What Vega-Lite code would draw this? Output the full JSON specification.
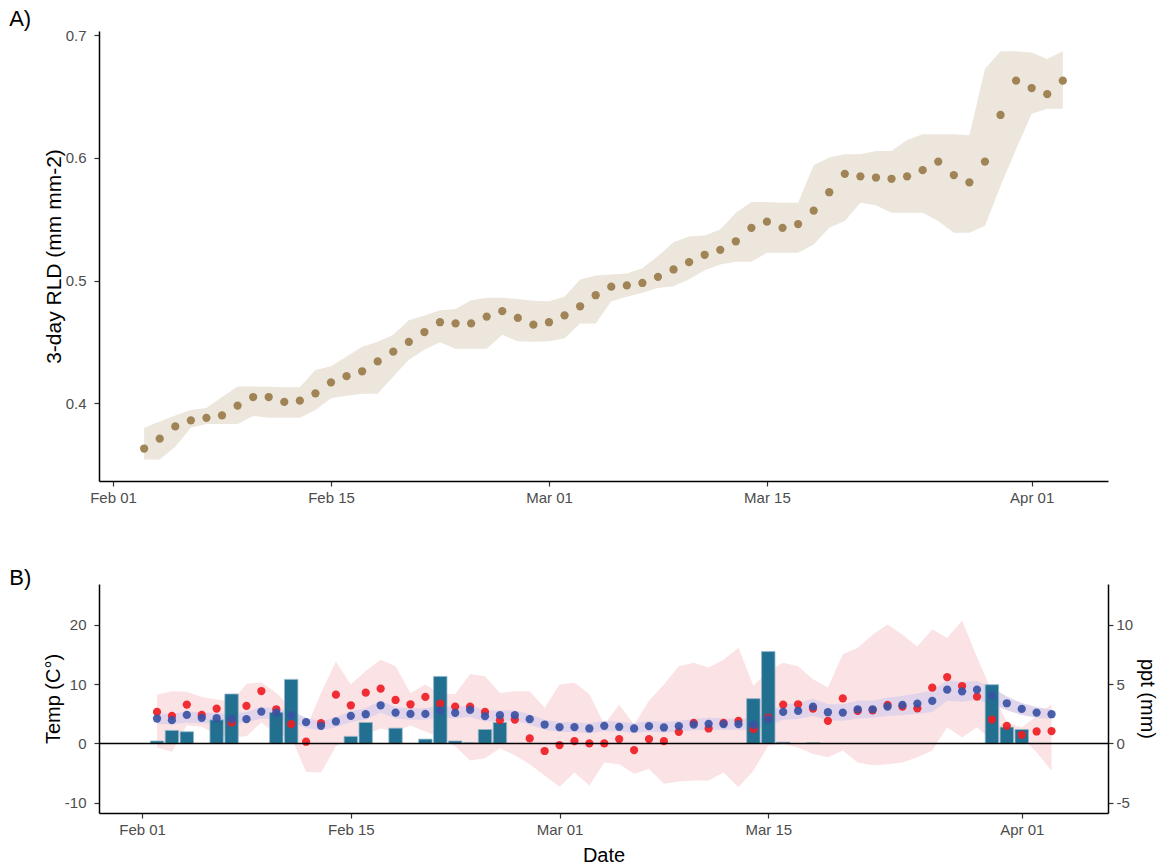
{
  "$schema": "https://vega.github.io/schema/vega-lite/v6.json",
  "padding": {"left": 9, "top": 8, "right": 3, "bottom": 0},
  "config": {
    "view": {"stroke": null},
    "font": "Liberation Sans",
    "axis": {"grid": false, "domainColor": "#000000", "domainWidth": 1.5, "tickColor": "#333333", "tickWidth": 1.2, "tickSize": 5, "labelFont": "Liberation Sans", "labelFontSize": 15, "labelColor": "#4D4D4D", "labelPadding": 4, "titleFont": "Liberation Sans", "titleFontSize": 20, "titleFontWeight": "normal", "titleColor": "#000000"},
    "axisY": {"labelPadding": 8, "titlePadding": 1},
    "title": {"font": "Liberation Sans", "fontSize": 22, "fontWeight": "normal", "color": "#000000", "anchor": "start", "frame": "bounds"}
  },
  "spacing": 62,
  "resolve": {"scale": {"x": "independent", "y": "independent"}},
  "datasets": {
    "rld": [
      {"date": "2021-02-03", "rld": 0.363, "lo": 0.354, "hi": 0.380},
      {"date": "2021-02-04", "rld": 0.371, "lo": 0.354, "hi": 0.385},
      {"date": "2021-02-05", "rld": 0.381, "lo": 0.3645, "hi": 0.390},
      {"date": "2021-02-06", "rld": 0.386, "lo": 0.380, "hi": 0.3945},
      {"date": "2021-02-07", "rld": 0.388, "lo": 0.383, "hi": 0.396},
      {"date": "2021-02-08", "rld": 0.390, "lo": 0.383, "hi": 0.405},
      {"date": "2021-02-09", "rld": 0.398, "lo": 0.383, "hi": 0.4136},
      {"date": "2021-02-10", "rld": 0.405, "lo": 0.3896, "hi": 0.4136},
      {"date": "2021-02-11", "rld": 0.405, "lo": 0.388, "hi": 0.4133},
      {"date": "2021-02-12", "rld": 0.401, "lo": 0.388, "hi": 0.413},
      {"date": "2021-02-13", "rld": 0.402, "lo": 0.388, "hi": 0.413},
      {"date": "2021-02-14", "rld": 0.408, "lo": 0.3945, "hi": 0.427},
      {"date": "2021-02-15", "rld": 0.417, "lo": 0.404, "hi": 0.430},
      {"date": "2021-02-16", "rld": 0.422, "lo": 0.406, "hi": 0.438},
      {"date": "2021-02-17", "rld": 0.426, "lo": 0.4076, "hi": 0.446},
      {"date": "2021-02-18", "rld": 0.434, "lo": 0.4076, "hi": 0.450},
      {"date": "2021-02-19", "rld": 0.442, "lo": 0.4218, "hi": 0.4558},
      {"date": "2021-02-20", "rld": 0.450, "lo": 0.4354, "hi": 0.4675},
      {"date": "2021-02-21", "rld": 0.458, "lo": 0.4436, "hi": 0.4714},
      {"date": "2021-02-22", "rld": 0.466, "lo": 0.4496, "hi": 0.4757},
      {"date": "2021-02-23", "rld": 0.465, "lo": 0.4444, "hi": 0.4768},
      {"date": "2021-02-24", "rld": 0.465, "lo": 0.4444, "hi": 0.484},
      {"date": "2021-02-25", "rld": 0.4706, "lo": 0.4444, "hi": 0.486},
      {"date": "2021-02-26", "rld": 0.475, "lo": 0.4558, "hi": 0.486},
      {"date": "2021-02-27", "rld": 0.4695, "lo": 0.4504, "hi": 0.485},
      {"date": "2021-02-28", "rld": 0.464, "lo": 0.450, "hi": 0.4836},
      {"date": "2021-03-01", "rld": 0.466, "lo": 0.4504, "hi": 0.483},
      {"date": "2021-03-02", "rld": 0.4716, "lo": 0.453, "hi": 0.4867},
      {"date": "2021-03-03", "rld": 0.479, "lo": 0.465, "hi": 0.5008},
      {"date": "2021-03-04", "rld": 0.488, "lo": 0.465, "hi": 0.504},
      {"date": "2021-03-05", "rld": 0.495, "lo": 0.483, "hi": 0.505},
      {"date": "2021-03-06", "rld": 0.496, "lo": 0.4867, "hi": 0.5057},
      {"date": "2021-03-07", "rld": 0.498, "lo": 0.490, "hi": 0.510},
      {"date": "2021-03-08", "rld": 0.503, "lo": 0.494, "hi": 0.520},
      {"date": "2021-03-09", "rld": 0.509, "lo": 0.4953, "hi": 0.5313},
      {"date": "2021-03-10", "rld": 0.515, "lo": 0.501, "hi": 0.536},
      {"date": "2021-03-11", "rld": 0.521, "lo": 0.5084, "hi": 0.5368},
      {"date": "2021-03-12", "rld": 0.525, "lo": 0.513, "hi": 0.5417},
      {"date": "2021-03-13", "rld": 0.532, "lo": 0.5153, "hi": 0.5553},
      {"date": "2021-03-14", "rld": 0.543, "lo": 0.5153, "hi": 0.564},
      {"date": "2021-03-15", "rld": 0.548, "lo": 0.5226, "hi": 0.564},
      {"date": "2021-03-16", "rld": 0.543, "lo": 0.5226, "hi": 0.5635},
      {"date": "2021-03-17", "rld": 0.546, "lo": 0.5226, "hi": 0.5635},
      {"date": "2021-03-18", "rld": 0.557, "lo": 0.5294, "hi": 0.594},
      {"date": "2021-03-19", "rld": 0.572, "lo": 0.543, "hi": 0.6003},
      {"date": "2021-03-20", "rld": 0.587, "lo": 0.5485, "hi": 0.603},
      {"date": "2021-03-21", "rld": 0.585, "lo": 0.5635, "hi": 0.603},
      {"date": "2021-03-22", "rld": 0.584, "lo": 0.5613, "hi": 0.6057},
      {"date": "2021-03-23", "rld": 0.583, "lo": 0.5553, "hi": 0.6057},
      {"date": "2021-03-24", "rld": 0.585, "lo": 0.5553, "hi": 0.6147},
      {"date": "2021-03-25", "rld": 0.590, "lo": 0.5553, "hi": 0.6193},
      {"date": "2021-03-26", "rld": 0.597, "lo": 0.5485, "hi": 0.6193},
      {"date": "2021-03-27", "rld": 0.586, "lo": 0.539, "hi": 0.6193},
      {"date": "2021-03-28", "rld": 0.580, "lo": 0.539, "hi": 0.6185},
      {"date": "2021-03-29", "rld": 0.597, "lo": 0.5444, "hi": 0.6725},
      {"date": "2021-03-30", "rld": 0.635, "lo": 0.577, "hi": 0.687},
      {"date": "2021-03-31", "rld": 0.663, "lo": 0.607, "hi": 0.687},
      {"date": "2021-04-01", "rld": 0.657, "lo": 0.636, "hi": 0.686},
      {"date": "2021-04-02", "rld": 0.652, "lo": 0.640, "hi": 0.6807},
      {"date": "2021-04-03", "rld": 0.663, "lo": 0.640, "hi": 0.687}
    ],
    "met": [
      {"date": "2021-02-02", "tmean": 5.30, "tmin": -0.7, "tmax": 8.2, "soil": 4.19, "slo": 3.3, "shi": 5.0, "ppt": 0.2},
      {"date": "2021-02-03", "tmean": 4.63, "tmin": -1.4, "tmax": 8.8, "soil": 3.91, "slo": 3.2, "shi": 4.9, "ppt": 1.09},
      {"date": "2021-02-04", "tmean": 6.53, "tmin": 3.0, "tmax": 8.7, "soil": 4.80, "slo": 3.5, "shi": 5.4, "ppt": 0.98},
      {"date": "2021-02-05", "tmean": 4.80, "tmin": 2.8, "tmax": 7.8, "soil": 4.30, "slo": 3.4, "shi": 5.2},
      {"date": "2021-02-06", "tmean": 5.86, "tmin": 1.5, "tmax": 7.4, "soil": 4.24, "slo": 3.4, "shi": 5.1, "ppt": 1.98},
      {"date": "2021-02-07", "tmean": 3.52, "tmin": 1.0, "tmax": 7.0, "soil": 4.08, "slo": 3.3, "shi": 5.0, "ppt": 4.16},
      {"date": "2021-02-08", "tmean": 6.31, "tmin": 1.2, "tmax": 10.0, "soil": 4.08, "slo": 3.5, "shi": 5.3},
      {"date": "2021-02-09", "tmean": 8.82, "tmin": 3.5, "tmax": 10.3, "soil": 5.36, "slo": 4.2, "shi": 6.1},
      {"date": "2021-02-10", "tmean": 5.75, "tmin": 1.5, "tmax": 8.5, "soil": 5.19, "slo": 4.0, "shi": 5.9, "ppt": 2.6},
      {"date": "2021-02-11", "tmean": 3.24, "tmin": 1.0, "tmax": 6.0, "soil": 4.75, "slo": 3.6, "shi": 5.4, "ppt": 5.39},
      {"date": "2021-02-12", "tmean": 0.28, "tmin": -4.8, "tmax": 2.5, "soil": 3.57, "slo": 2.6, "shi": 4.3},
      {"date": "2021-02-13", "tmean": 3.41, "tmin": -4.9, "tmax": 8.5, "soil": 2.96, "slo": 2.2, "shi": 3.7},
      {"date": "2021-02-14", "tmean": 8.21, "tmin": -0.5, "tmax": 13.8, "soil": 3.69, "slo": 2.7, "shi": 4.4},
      {"date": "2021-02-15", "tmean": 6.42, "tmin": 1.0, "tmax": 9.9, "soil": 4.63, "slo": 3.6, "shi": 5.4, "ppt": 0.59},
      {"date": "2021-02-16", "tmean": 8.54, "tmin": 1.5, "tmax": 12.2, "soil": 4.91, "slo": 4.0, "shi": 5.9, "ppt": 1.76},
      {"date": "2021-02-17", "tmean": 9.21, "tmin": 2.5, "tmax": 14.1, "soil": 6.42, "slo": 5.2, "shi": 7.2},
      {"date": "2021-02-18", "tmean": 7.31, "tmin": 2.0, "tmax": 13.0, "soil": 5.19, "slo": 4.2, "shi": 6.1, "ppt": 1.28},
      {"date": "2021-02-19", "tmean": 6.59, "tmin": 3.0, "tmax": 8.5, "soil": 4.97, "slo": 4.0, "shi": 5.9},
      {"date": "2021-02-20", "tmean": 7.82, "tmin": 2.0, "tmax": 9.9, "soil": 4.97, "slo": 4.0, "shi": 5.9, "ppt": 0.36},
      {"date": "2021-02-21", "tmean": 6.70, "tmin": 1.0, "tmax": 8.3, "soil": 5.53, "slo": 4.4, "shi": 6.4, "ppt": 5.64},
      {"date": "2021-02-22", "tmean": 6.20, "tmin": -0.5, "tmax": 8.3, "soil": 5.14, "slo": 4.2, "shi": 6.0, "ppt": 0.2},
      {"date": "2021-02-23", "tmean": 6.20, "tmin": -2.9, "tmax": 11.7, "soil": 5.64, "slo": 4.5, "shi": 6.5, "ppt": 0.05},
      {"date": "2021-02-24", "tmean": 5.30, "tmin": -2.5, "tmax": 11.3, "soil": 4.58, "slo": 3.7, "shi": 5.5, "ppt": 1.17},
      {"date": "2021-02-25", "tmean": 3.91, "tmin": -0.8, "tmax": 8.5, "soil": 4.75, "slo": 3.8, "shi": 5.6, "ppt": 1.76},
      {"date": "2021-02-26", "tmean": 4.02, "tmin": -2.0, "tmax": 8.8, "soil": 4.75, "slo": 3.8, "shi": 5.6},
      {"date": "2021-02-27", "tmean": 0.84, "tmin": -3.5, "tmax": 8.8, "soil": 4.08, "slo": 3.2, "shi": 4.9},
      {"date": "2021-02-28", "tmean": -1.28, "tmin": -5.4, "tmax": 6.0, "soil": 3.18, "slo": 2.3, "shi": 4.0},
      {"date": "2021-03-01", "tmean": -0.28, "tmin": -7.3, "tmax": 9.9, "soil": 2.74, "slo": 1.9, "shi": 3.6},
      {"date": "2021-03-02", "tmean": 0.39, "tmin": -4.9, "tmax": 10.2, "soil": 2.74, "slo": 1.9, "shi": 3.6},
      {"date": "2021-03-03", "tmean": 0.0, "tmin": -7.1, "tmax": 8.3, "soil": 2.51, "slo": 1.7, "shi": 3.4},
      {"date": "2021-03-04", "tmean": 0.0, "tmin": -3.2, "tmax": 3.2, "soil": 2.96, "slo": 2.1, "shi": 3.8},
      {"date": "2021-03-05", "tmean": 0.73, "tmin": -3.5, "tmax": 6.5, "soil": 2.79, "slo": 2.0, "shi": 3.7},
      {"date": "2021-03-06", "tmean": -1.12, "tmin": -5.1, "tmax": 3.2, "soil": 2.51, "slo": 1.7, "shi": 3.4},
      {"date": "2021-03-07", "tmean": 0.73, "tmin": -4.3, "tmax": 7.2, "soil": 2.90, "slo": 2.0, "shi": 3.8},
      {"date": "2021-03-08", "tmean": 0.39, "tmin": -6.8, "tmax": 9.9, "soil": 2.68, "slo": 1.8, "shi": 3.6},
      {"date": "2021-03-09", "tmean": 1.95, "tmin": -6.4, "tmax": 13.0, "soil": 2.90, "slo": 2.0, "shi": 3.8},
      {"date": "2021-03-10", "tmean": 3.46, "tmin": -6.25, "tmax": 13.6, "soil": 3.18, "slo": 2.2, "shi": 4.1},
      {"date": "2021-03-11", "tmean": 2.51, "tmin": -6.25, "tmax": 12.8, "soil": 3.29, "slo": 2.3, "shi": 4.3},
      {"date": "2021-03-12", "tmean": 3.46, "tmin": -4.9, "tmax": 14.1, "soil": 3.24, "slo": 2.3, "shi": 4.2},
      {"date": "2021-03-13", "tmean": 3.80, "tmin": -7.4, "tmax": 16.1, "soil": 3.24, "slo": 2.3, "shi": 4.2},
      {"date": "2021-03-14", "tmean": 2.40, "tmin": -4.6, "tmax": 9.7, "soil": 3.13, "slo": 2.2, "shi": 4.1, "ppt": 3.77},
      {"date": "2021-03-15", "tmean": 4.36, "tmin": -0.4, "tmax": 12.2, "soil": 4.08, "slo": 3.0, "shi": 5.2, "ppt": 7.73},
      {"date": "2021-03-16", "tmean": 6.53, "tmin": -0.1, "tmax": 13.6, "soil": 5.30, "slo": 4.0, "shi": 6.5, "ppt": 0.1},
      {"date": "2021-03-17", "tmean": 6.59, "tmin": -0.7, "tmax": 13.0, "soil": 5.47, "slo": 4.1, "shi": 6.8},
      {"date": "2021-03-18", "tmean": 5.86, "tmin": -1.8, "tmax": 10.8, "soil": 6.20, "slo": 4.6, "shi": 7.5, "ppt": 0.05},
      {"date": "2021-03-19", "tmean": 3.80, "tmin": -2.35, "tmax": 9.4, "soil": 5.25, "slo": 3.9, "shi": 6.6},
      {"date": "2021-03-20", "tmean": 7.59, "tmin": -1.2, "tmax": 15.0, "soil": 5.19, "slo": 3.8, "shi": 6.6},
      {"date": "2021-03-21", "tmean": 5.47, "tmin": -3.2, "tmax": 16.1, "soil": 5.75, "slo": 4.2, "shi": 7.2},
      {"date": "2021-03-22", "tmean": 5.58, "tmin": -3.7, "tmax": 18.3, "soil": 5.75, "slo": 4.3, "shi": 7.2},
      {"date": "2021-03-23", "tmean": 6.48, "tmin": -3.5, "tmax": 20.0, "soil": 6.20, "slo": 4.6, "shi": 7.7},
      {"date": "2021-03-24", "tmean": 6.20, "tmin": -3.2, "tmax": 18.3, "soil": 6.48, "slo": 4.8, "shi": 8.0},
      {"date": "2021-03-25", "tmean": 5.90, "tmin": -2.35, "tmax": 16.3, "soil": 6.70, "slo": 5.0, "shi": 8.4},
      {"date": "2021-03-26", "tmean": 9.38, "tmin": -1.2, "tmax": 19.2, "soil": 7.15, "slo": 5.3, "shi": 8.9},
      {"date": "2021-03-27", "tmean": 11.17, "tmin": 2.7, "tmax": 17.75, "soil": 9.05, "slo": 7.2, "shi": 10.6},
      {"date": "2021-03-28", "tmean": 9.66, "tmin": 1.0, "tmax": 20.7, "soil": 8.77, "slo": 7.0, "shi": 10.4},
      {"date": "2021-03-29", "tmean": 7.87, "tmin": 2.7, "tmax": 14.5, "soil": 9.05, "slo": 7.3, "shi": 10.5},
      {"date": "2021-03-30", "tmean": 4.02, "tmin": 0.45, "tmax": 8.8, "soil": 8.04, "slo": 6.6, "shi": 9.4, "ppt": 4.94},
      {"date": "2021-03-31", "tmean": 2.96, "tmin": 0.2, "tmax": 3.5, "soil": 6.76, "slo": 5.6, "shi": 7.9, "ppt": 1.37},
      {"date": "2021-04-01", "tmean": 1.45, "tmin": 1.0, "tmax": 2.7, "soil": 5.81, "slo": 4.8, "shi": 6.8, "ppt": 1.17},
      {"date": "2021-04-02", "tmean": 2.01, "tmin": -1.5, "tmax": 4.6, "soil": 5.19, "slo": 4.3, "shi": 6.1},
      {"date": "2021-04-03", "tmean": 2.07, "tmin": -4.6, "tmax": 6.6, "soil": 4.91, "slo": 4.1, "shi": 5.7}
    ]
  },
  "vconcat": [
    {
      "width": 1009,
      "height": 450,
      "title": {"text": "A)", "dx": -34, "offset": -3},
      "data": {"name": "rld"},
      "encoding": {
        "x": {"field": "date", "type": "temporal",
          "scale": {"type": "utc", "nice": false, "domain": [{"year": 2021, "month": 1, "date": 31, "hours": 2, "minutes": 25, "utc": true}, {"year": 2021, "month": 4, "date": 5, "hours": 21, "minutes": 40, "utc": true}]},
          "axis": {"title": null, "format": "%b %d",
            "values": [{"year": 2021, "month": 2, "date": 1, "utc": true}, {"year": 2021, "month": 2, "date": 15, "utc": true}, {"year": 2021, "month": 3, "date": 1, "utc": true}, {"year": 2021, "month": 3, "date": 15, "utc": true}, {"year": 2021, "month": 4, "date": 1, "utc": true}]}}
      },
      "layer": [
        {"mark": {"type": "area", "color": "#ECE6DD", "opacity": 1},
         "encoding": {
           "y": {"field": "lo", "type": "quantitative", "scale": {"domain": [0.3365, 0.7035], "nice": false, "zero": false}, "axis": {"title": "3-day RLD (mm mm-2)", "titleFontSize": 21, "values": [0.4, 0.5, 0.6, 0.7], "format": ".1f"}},
           "y2": {"field": "hi"}}},
        {"mark": {"type": "circle", "size": 68, "color": "#A08455", "opacity": 1},
         "encoding": {"y": {"field": "rld", "type": "quantitative", "title": "3-day RLD (mm mm-2)"}}}
      ]
    },
    {
      "width": 1009,
      "height": 229,
      "title": {"text": "B)", "dx": -34, "offset": -6},
      "data": {"name": "met"},
      "resolve": {"scale": {"y": "independent"}, "axis": {"y": "independent"}},
      "layer": [
        {"mark": {"type": "area", "color": "#FBE2E4", "opacity": 1},
         "encoding": {
           "x": {"field": "date", "type": "temporal",
             "scale": {"type": "utc", "nice": false, "domain": [{"year": 2021, "month": 1, "date": 29, "hours": 10, "minutes": 40, "utc": true}, {"year": 2021, "month": 4, "date": 6, "hours": 10, "minutes": 50, "utc": true}]},
             "axis": {"title": "Date", "titlePadding": 8, "format": "%b %d",
               "values": [{"year": 2021, "month": 2, "date": 1, "utc": true}, {"year": 2021, "month": 2, "date": 15, "utc": true}, {"year": 2021, "month": 3, "date": 1, "utc": true}, {"year": 2021, "month": 3, "date": 15, "utc": true}, {"year": 2021, "month": 4, "date": 1, "utc": true}]}},
           "y": {"field": "tmin", "type": "quantitative", "scale": {"domain": [-11.72, 26.84], "nice": false, "zero": false}, "axis": {"title": "Temp (C°)", "values": [-10, 0, 10, 20], "orient": "left", "labelExpr": "replace(datum.label, '−', '-')"}},
           "y2": {"field": "tmax"}}},
        {"mark": {"type": "area", "color": "#DDD2EA", "opacity": 0.9},
         "encoding": {
           "x": {"field": "date", "type": "temporal", "title": "Date"},
           "y": {"field": "slo", "type": "quantitative", "scale": {"domain": [-11.72, 26.84], "nice": false, "zero": false}, "axis": null},
           "y2": {"field": "shi"}}},
        {"mark": {"type": "bar", "width": 13.4, "color": "#17698C", "opacity": 0.95, "stroke": "#8DB4C7", "strokeWidth": 0.8},
         "encoding": {
           "x": {"field": "date", "type": "temporal", "title": "Date"},
           "y": {"field": "ppt", "type": "quantitative", "scale": {"domain": [-5.86, 13.42], "nice": false, "zero": false}, "axis": {"title": "ppt (mm)", "orient": "right", "values": [-5, 0, 5, 10], "labelPadding": 3, "titlePadding": 4, "labelExpr": "replace(datum.label, '−', '-')"}}}},
        {"mark": {"type": "circle", "size": 68, "color": "#EE1D23", "opacity": 0.92},
         "encoding": {
           "x": {"field": "date", "type": "temporal", "title": "Date"},
           "y": {"field": "tmean", "type": "quantitative", "scale": {"domain": [-11.72, 26.84], "nice": false, "zero": false}, "axis": null}}},
        {"mark": {"type": "circle", "size": 68, "color": "#3953A4", "opacity": 0.92},
         "encoding": {
           "x": {"field": "date", "type": "temporal", "title": "Date"},
           "y": {"field": "soil", "type": "quantitative", "scale": {"domain": [-11.72, 26.84], "nice": false, "zero": false}, "axis": null}}},
        {"data": {"values": [{"z": 0}]},
         "mark": {"type": "rule", "color": "#000000", "strokeWidth": 1.5},
         "encoding": {
           "y": {"field": "z", "type": "quantitative", "scale": {"domain": [-11.72, 26.84], "nice": false, "zero": false}, "axis": null}}}
      ]
    }
  ]
}
